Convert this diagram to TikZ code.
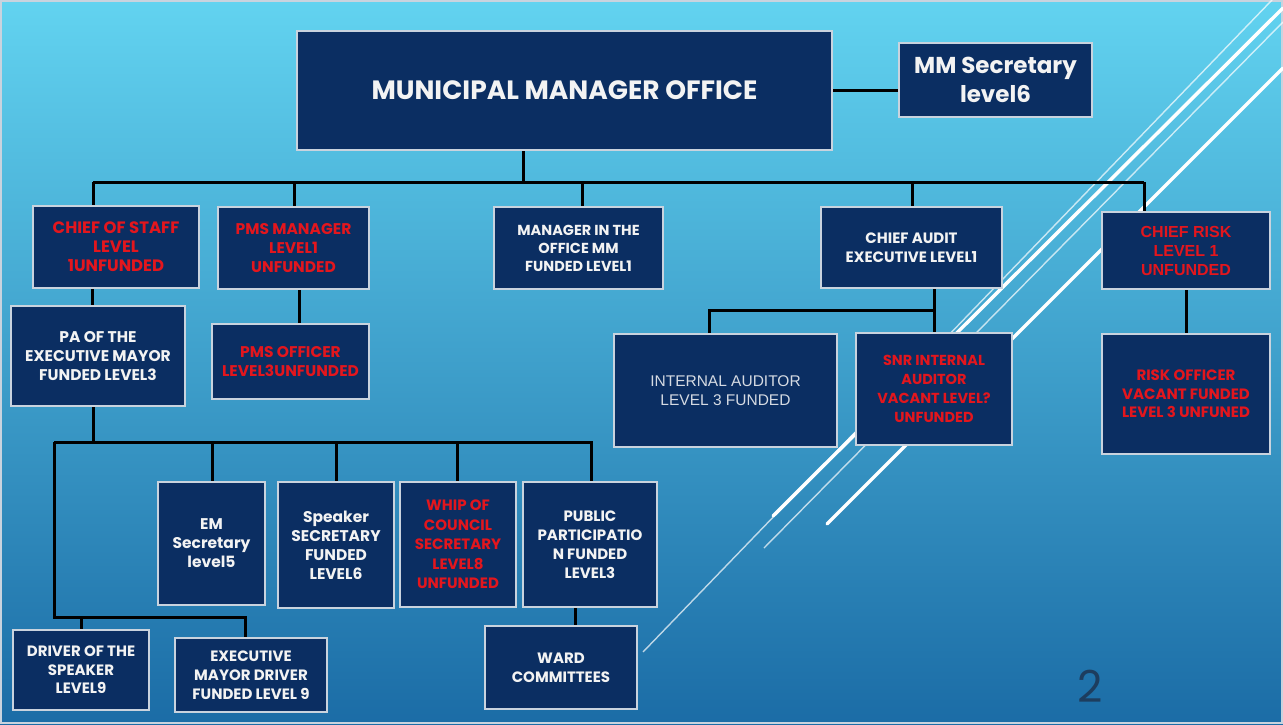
\documentclass[tikz,border=0pt]{standalone}
\usepackage{fontspec}
\setmainfont{Poppins}
\newfontfamily\arialfont{Liberation Sans}
\definecolor{navy}{HTML}{0B2E62}
\definecolor{bord}{HTML}{C9D3DE}
\definecolor{redtxt}{HTML}{E3161D}
\definecolor{wt}{HTML}{F3F3F3}
\definecolor{bgtop}{HTML}{62D3F0}
\definecolor{bgmid}{HTML}{3AA3D3}
\definecolor{bgbot}{HTML}{1B6CA6}
\definecolor{numc}{HTML}{1D3D5E}
\begin{document}
\begin{tikzpicture}[x=1pt,y=-1pt,
  box/.style={draw=bord, line width=2pt, fill=navy, inner sep=0pt, align=center,
    text=wt, font=\bfseries\fontsize{15.5}{19}\selectfont},
  redbox/.style={box, text=redtxt},
  conn/.style={line width=3pt, black},
  thickdiag/.style={white, line width=3.5pt, line cap=round},
  thindiag/.style={white, line width=1.4pt, opacity=0.7}
]
\useasboundingbox (0,0) rectangle (1283,724);
% background
\shade[top color=bgtop, middle color=bgmid, bottom color=bgbot] (0,0) rectangle (1283,724);
\draw[bord, line width=2pt] (1,1) rectangle (1282,723);
% diagonal decoration
\draw[thindiag] (1272,0) -- (643,652);
\draw[thickdiag] (1283,8) -- (773,516);
\draw[thindiag] (1283,22) -- (764,548);
\draw[thickdiag] (1283,68) -- (827,524);

% boxes
\node[box, minimum width=535pt, minimum height=119pt, font=\bfseries\fontsize{26.5}{30}\selectfont] (mmo) at (564.5,90.5) {MUNICIPAL MANAGER OFFICE};
\node[box, minimum width=193pt, minimum height=74pt, font=\bfseries\fontsize{23}{29}\selectfont] (mmsec) at (995.5,80) {MM Secretary\\level6};

\node[redbox, minimum width=166pt, minimum height=82pt, font=\bfseries\fontsize{16.5}{19}\selectfont] (cos) at (116,247) {CHIEF OF STAFF\\LEVEL\\1UNFUNDED};
\node[redbox, minimum width=151pt, minimum height=82pt] (pmsm) at (293.5,248) {PMS MANAGER\\LEVEL1\\UNFUNDED};
\node[box, minimum width=169pt, minimum height=82pt, font=\bfseries\fontsize{14.5}{18}\selectfont] (mio) at (578.5,248) {MANAGER IN THE\\OFFICE MM\\FUNDED LEVEL1};
\node[box, minimum width=181pt, minimum height=81pt, font=\bfseries\fontsize{15}{19}\selectfont] (cae) at (911.5,247.5) {CHIEF AUDIT\\EXECUTIVE LEVEL1};
\node[redbox, minimum width=168pt, minimum height=77pt, font=\arialfont\bfseries\fontsize{16}{19}\selectfont] (cr) at (1186,250.5) {CHIEF RISK\\LEVEL 1\\UNFUNDED};

\node[box, minimum width=174pt, minimum height=100pt] (pa) at (98,356) {PA OF THE\\EXECUTIVE MAYOR\\FUNDED LEVEL3};
\node[redbox, minimum width=157pt, minimum height=75pt] (pmso) at (290.5,361.5) {PMS OFFICER\\LEVEL3UNFUNDED};
\node[box, minimum width=223pt, minimum height=113pt, text={rgb,255:red,214;green,219;blue,227}, font=\arialfont\fontsize{15.5}{19}\selectfont] (ia) at (725.5,390.5) {INTERNAL AUDITOR\\LEVEL 3 FUNDED};
\node[redbox, minimum width=156pt, minimum height=112pt, font=\bfseries\fontsize{14.5}{19}\selectfont] (snr) at (934,389) {SNR INTERNAL\\AUDITOR\\VACANT LEVEL?\\UNFUNDED};
\node[redbox, minimum width=168pt, minimum height=120pt, font=\bfseries\fontsize{15}{18.5}\selectfont] (ro) at (1186,394) {RISK OFFICER\\VACANT FUNDED\\LEVEL 3 UNFUNED};

\node[box, minimum width=107pt, minimum height=123pt] (em) at (211.5,543.5) {EM\\Secretary\\level5};
\node[box, minimum width=116pt, minimum height=126pt] (spk) at (336,545) {Speaker\\SECRETARY\\FUNDED\\LEVEL6};
\node[redbox, minimum width=116pt, minimum height=125pt, font=\bfseries\fontsize{15}{19.5}\selectfont] (whip) at (458,544.5) {WHIP OF\\COUNCIL\\SECRETARY\\LEVEL8\\UNFUNDED};
\node[box, minimum width=134pt, minimum height=125pt, font=\bfseries\fontsize{15}{19}\selectfont] (pub) at (590,544.5) {PUBLIC\\PARTICIPATIO\\N FUNDED\\LEVEL3};

\node[box, minimum width=136pt, minimum height=80pt, font=\bfseries\fontsize{15}{18.5}\selectfont] (drv) at (81,670) {DRIVER OF THE\\SPEAKER\\LEVEL9};
\node[box, minimum width=152pt, minimum height=74pt, font=\bfseries\fontsize{15}{19}\selectfont] (emd) at (251,675) {EXECUTIVE\\MAYOR DRIVER\\FUNDED LEVEL 9};
\node[box, minimum width=152pt, minimum height=83pt, font=\bfseries\fontsize{15}{19}\selectfont] (ward) at (561,667.5) {WARD\\COMMITTEES};

% slide number
\node[text=numc, font=\fontsize{44}{44}\selectfont, inner sep=0pt] (num) at (1090,686) {2};

% connectors
\coordinate (j0) at (523,182);
\coordinate (bl) at (93,182);
\coordinate (br) at (1144,182);
\coordinate (b2) at (294,182);
\coordinate (b3) at (582,182);
\coordinate (b4) at (912,182);
\draw[conn] (mmo.east) -- (mmo.east -| mmsec.west);
\draw[conn] (j0 |- mmo.south) -- (j0);
\draw[conn] (bl) -- (br);
\draw[conn] (bl) -- (bl |- cos.north);
\draw[conn] (b2) -- (b2 |- pmsm.north);
\draw[conn] (b3) -- (b3 |- mio.north);
\draw[conn] (b4) -- (b4 |- cae.north);
\draw[conn] (br) -- (br |- cr.north);

\coordinate (c1) at (92,297);
\coordinate (c2) at (299,305);
\draw[conn] (c1 |- cos.south) -- (c1 |- pa.north);
\draw[conn] (c2 |- pmsm.south) -- (c2 |- pmso.north);

\coordinate (a1) at (934,310);
\coordinate (a2) at (709,310);
\draw[conn] (a1 |- cae.south) -- (snr.north);
\draw[conn] (a1) -- (a2) -- (a2 |- ia.north);
\draw[conn] (cr.south) -- (ro.north);

\coordinate (l0) at (93,442);
\coordinate (ll) at (54,442);
\coordinate (lr) at (591,442);
\coordinate (l1) at (212,442);
\coordinate (l2) at (336,442);
\coordinate (l3) at (457,442);
\draw[conn] (l0 |- pa.south) -- (l0);
\draw[conn] (ll) -- (lr) -- (lr |- pub.north);
\draw[conn] (l1) -- (l1 |- em.north);
\draw[conn] (l2) -- (l2 |- spk.north);
\draw[conn] (l3) -- (l3 |- whip.north);

\coordinate (m0) at (54,617);
\coordinate (m1) at (245,617);
\coordinate (m2) at (81,617);
\draw[conn] (ll) -- (m0) -- (m1) -- (m1 |- emd.north);
\draw[conn] (m2) -- (m2 |- drv.north);

\coordinate (p1) at (575,615);
\draw[conn] (p1 |- pub.south) -- (p1 |- ward.north);
\end{tikzpicture}
\end{document}
